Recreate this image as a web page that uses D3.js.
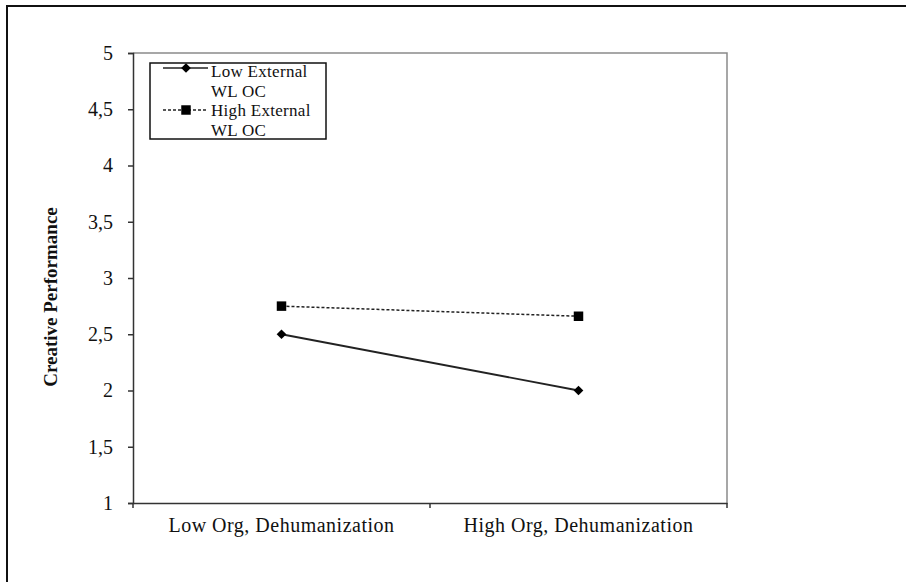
<!DOCTYPE html>
<html>
<head>
<meta charset="utf-8">
<script src="https://cdn.jsdelivr.net/npm/d3@7"></script>
<style>
  body { margin: 0; background: #fff; }
  svg text { font-family: "Liberation Serif", "Times New Roman", serif; fill: #111; }
</style>
</head>
<body>
<svg id="chart" width="906" height="582"></svg>
<script>
// data
var categories = ["Low Org, Dehumanization", "High Org, Dehumanization"];
var lowExternal = [2.5, 2.0];
var highExternal = [2.75, 2.66];
var yTicks = [1, 1.5, 2, 2.5, 3, 3.5, 4, 4.5, 5];
var seriesNames = [["Low External", "WL OC"], ["High External", "WL OC"]];

var svg = d3.select("#chart");
var plotLeft = 133, plotRight = 727, plotTop = 53, plotBottom = 503;

// outer frame (only left + top edges show)
svg.append("path")
    .attr("d", "M7,582 L7,6 L906,6")
    .style("fill", "none")
    .style("stroke", "#111")
    .style("stroke-width", 2);

var x = d3.scaleBand().domain(categories).range([plotLeft, plotRight]);
var y = d3.scaleLinear().domain([1, 5]).range([plotBottom, plotTop]);

// plot frame top/right
svg.append("path")
    .attr("d", "M" + plotLeft + "," + plotTop + " L" + plotRight + "," + plotTop + " L" + plotRight + "," + plotBottom)
    .style("fill", "none")
    .style("stroke", "#8a8a8a")
    .style("stroke-width", 1.5);

var yAxis = svg.append("g")
    .attr("transform", "translate(" + plotLeft + ",0)")
    .call(d3.axisLeft(y).tickValues(yTicks).tickSize(5).tickPadding(15)
      .tickFormat(function(d) { return String(d).replace(".", ","); }));
yAxis.selectAll("text").style("font-size", "20px");

var xAxis = svg.append("g")
    .attr("transform", "translate(0," + plotBottom + ")")
    .call(d3.axisBottom(x).tickSize(0).tickPadding(15));
xAxis.selectAll("text").style("font-size", "20px").style("letter-spacing", "0.5px");
// boundary ticks between categories
var xEdges = [plotLeft, plotLeft + x.bandwidth(), plotRight];
svg.selectAll("xEdgeTicks")
    .data(xEdges)
    .enter()
    .append("line")
    .attr("x1", function(d) { return d; })
    .attr("x2", function(d) { return d; })
    .attr("y1", plotBottom)
    .attr("y2", plotBottom + 5)
    .style("stroke", "#333")
    .style("stroke-width", 1.5);

svg.selectAll(".domain").style("stroke", "#333").style("stroke-width", 1.5);
svg.selectAll(".tick line").style("stroke", "#333").style("stroke-width", 1.5);
svg.selectAll(".tick text").style("fill", "#111");

function cx(i) { return x(categories[i]) + x.bandwidth() / 2; }

var line = d3.line()
    .x(function(d, i) { return cx(i); })
    .y(function(d) { return y(d); });

svg.append("path")
    .datum(highExternal)
    .attr("d", line)
    .style("fill", "none")
    .style("stroke", "#222")
    .style("stroke-width", 1.5)
    .style("stroke-dasharray", "3,2");

svg.append("path")
    .datum(lowExternal)
    .attr("d", line)
    .style("fill", "none")
    .style("stroke", "#222")
    .style("stroke-width", 1.8);

var diamond = d3.symbol().type(d3.symbolDiamond2).size(60);
var square = d3.symbol().type(d3.symbolSquare).size(90);

svg.selectAll("lowMarks")
    .data(lowExternal)
    .enter()
    .append("path")
    .attr("d", diamond)
    .attr("transform", function(d, i) { return "translate(" + cx(i) + "," + y(d) + ")"; })
    .style("fill", "#000");

svg.selectAll("highMarks")
    .data(highExternal)
    .enter()
    .append("path")
    .attr("d", square)
    .attr("transform", function(d, i) { return "translate(" + cx(i) + "," + y(d) + ")"; })
    .style("fill", "#000");

// legend
var legend = svg.append("g");
legend.append("rect")
    .attr("x", 150).attr("y", 63)
    .attr("width", 176).attr("height", 76)
    .style("fill", "#fff")
    .style("stroke", "#111")
    .style("stroke-width", 1.5);

var legY = [68, 110];
var legBase = [77, 116];
legend.selectAll("legLines")
    .data(legY)
    .enter()
    .append("line")
    .attr("x1", 163).attr("x2", 208)
    .attr("y1", function(d) { return d; })
    .attr("y2", function(d) { return d; })
    .style("stroke", "#222")
    .style("stroke-width", 1.5)
    .style("stroke-dasharray", function(d, i) { return i == 1 ? "3,2" : null; });

legend.append("path")
    .attr("d", diamond)
    .attr("transform", "translate(186," + legY[0] + ")")
    .style("fill", "#000");
legend.append("path")
    .attr("d", square)
    .attr("transform", "translate(186," + legY[1] + ")")
    .style("fill", "#000");

legend.selectAll("legText")
    .data(seriesNames)
    .enter()
    .append("text")
    .attr("x", 211)
    .attr("y", function(d, i) { return legBase[i]; })
    .style("font-size", "17px")
    .style("letter-spacing", "0.3px")
    .each(function(d, i) {
      d3.select(this).append("tspan").attr("x", 211).text(d[0]);
      d3.select(this).append("tspan").attr("x", 211).attr("dy", 20).text(d[1]);
    });

// y axis title
svg.append("text")
    .attr("transform", "translate(50,297) rotate(-90)")
    .style("text-anchor", "middle")
    .style("dominant-baseline", "central")
    .style("font-size", "19px")
    .style("font-weight", "bold")
    .text("Creative Performance");
</script>
</body>
</html>
